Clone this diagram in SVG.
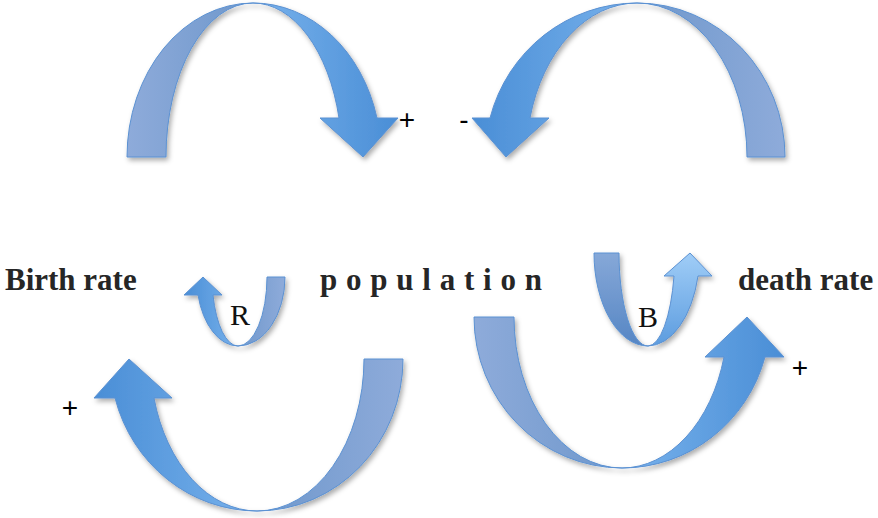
<svg xmlns="http://www.w3.org/2000/svg" width="878" height="518" viewBox="0 0 878 518">
<style>
  .band { stroke: #5B91D2; stroke-width: 1; stroke-linejoin: miter; }
  .lbl { font-family: "Liberation Serif", "Times New Roman", serif; font-weight: bold; font-size: 31px; fill: #262626; }
  .let { font-family: "Liberation Serif", "Times New Roman", serif; font-size: 30px; fill: #111; }
  .sgn { font-family: "Liberation Sans", Arial, sans-serif; font-size: 28px; fill: #000; text-anchor: middle; }
</style>
<defs>
  <filter id="sh" x="-10%" y="-10%" width="125%" height="125%">
    <feDropShadow dx="2" dy="3" stdDeviation="2.5" flood-color="#000" flood-opacity="0.32"/>
  </filter>
  <linearGradient id="backLR" x1="0" y1="0" x2="1" y2="0"><stop offset="0" stop-color="#8EABDA"/><stop offset="1" stop-color="#6E97CB"/></linearGradient>
  <linearGradient id="backRL" x1="1" y1="0" x2="0" y2="0"><stop offset="0" stop-color="#8EABDA"/><stop offset="1" stop-color="#6E97CB"/></linearGradient>
  <linearGradient id="frontLR" x1="0" y1="0" x2="1" y2="0"><stop offset="0" stop-color="#78B2EC"/><stop offset="1" stop-color="#4A8ED6"/></linearGradient>
  <linearGradient id="frontRL" x1="1" y1="0" x2="0" y2="0"><stop offset="0" stop-color="#78B2EC"/><stop offset="1" stop-color="#4A8ED6"/></linearGradient>
  <linearGradient id="bBack" x1="0" y1="0" x2="0" y2="1"><stop offset="0" stop-color="#86A8D8"/><stop offset="1" stop-color="#5686C4"/></linearGradient>
  <linearGradient id="bFront" x1="0" y1="1" x2="0" y2="0"><stop offset="0" stop-color="#5C9CDF"/><stop offset="1" stop-color="#A0CDF7"/></linearGradient>
</defs>

<g id="connectors">
  <g id="arrow-top-left" filter="url(#sh)">
    <path class="band" fill="url(#backLR)" d="M127,157 A126,154 0 0 1 253,3 A87,154 0 0 0 166,157 Z"/>
    <path class="band" fill="url(#frontLR)" d="M253,3 A128,154 0 0 1 377,118 L398,118 L363,157 L320,118 L339,118 A89,154 0 0 0 253,3 Z"/>
  </g>
  <g id="arrow-top-right" filter="url(#sh)">
    <path class="band" fill="url(#backRL)" d="M785,157 A148,154 0 0 0 637,3 A110,154 0 0 1 747,157 Z"/>
    <path class="band" fill="url(#frontRL)" d="M637,3 A152,154 0 0 0 490,118 L472,118 L506,157 L549,118 L530,118 A111,154 0 0 1 637,3 Z"/>
  </g>
  <g id="arrow-bottom-left" filter="url(#sh)">
    <path class="band" fill="url(#backRL)" d="M403,359 A146,152 0 0 1 257,511 A107,152 0 0 0 364,359 Z"/>
    <path class="band" fill="url(#frontRL)" d="M257,511 A147,152 0 0 1 115,398 L94,398 L129,359 L172,398 L154,398 A107,152 0 0 0 257,511 Z"/>
  </g>
  <g id="arrow-bottom-right" filter="url(#sh)">
    <path class="band" fill="url(#backLR)" d="M474,317 A148,151 0 0 0 622,468 A108,151 0 0 1 514,317 Z"/>
    <path class="band" fill="url(#frontLR)" d="M622,468 A148,151 0 0 0 765,357 L784,357 L747,317 L705,357 L724,357 A106,151 0 0 1 622,468 Z"/>
  </g>
  <g id="arrow-R" filter="url(#sh)">
    <path class="band" fill="url(#backRL)" d="M285,277 A47,69 0 0 1 238,346 A29,69 0 0 0 267,277 Z"/>
    <path class="band" fill="url(#frontRL)" d="M238,346 A41.5,69 0 0 1 198,295 L184,295 L203,277 L222,295 L213,295 A26,69 0 0 0 238,346 Z"/>
  </g>
  <g id="arrow-B" filter="url(#sh)">
    <path class="band" fill="url(#bBack)" d="M594,253 A54,93 0 0 0 648,346 A29,93 0 0 1 619,253 Z"/>
    <path class="band" fill="url(#bFront)" d="M648,346 A52,93 0 0 0 698,276 L712,276 L690,253 L664,276 L674,276 A27,93 0 0 1 648,346 Z"/>
  </g>
</g>

<g id="node-birth-rate"><text class="lbl" x="5" y="290">Birth rate</text></g>
<g id="node-population"><text class="lbl" x="320" y="290" textLength="222" lengthAdjust="spacing">p o p u l a t i o n</text></g>
<g id="node-death-rate"><text class="lbl" x="738" y="290">death rate</text></g>
<g id="label-R"><text class="let" x="230" y="325">R</text></g>
<g id="label-B"><text class="let" x="638" y="327">B</text></g>
<g id="signs">
  <text class="sgn" x="407" y="129">+</text>
  <text class="sgn" x="464" y="129">-</text>
  <text class="sgn" x="70" y="417">+</text>
  <text class="sgn" x="800" y="377">+</text>
</g>
</svg>
